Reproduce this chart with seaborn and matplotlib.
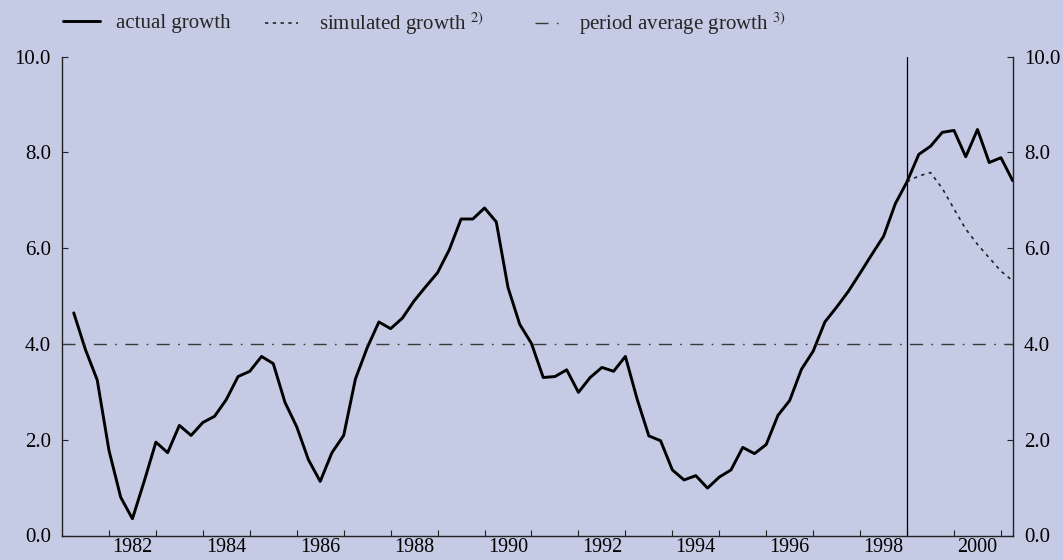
import numpy as np
import pandas as pd
import matplotlib
matplotlib.use("Agg")
import matplotlib.pyplot as plt
import seaborn as sns
from matplotlib.ticker import FormatStrFormatter

# ---------------- data ----------------
quarters = pd.period_range("1981Q1", "2001Q1", freq="Q")
actual_growth = [
    4.65, 3.88, 3.25, 1.78, 0.80, 0.35, 1.13, 1.95, 1.73, 2.30,
    2.09, 2.36, 2.49, 2.84, 3.32, 3.43, 3.74, 3.59, 2.78, 2.27,
    1.58, 1.13, 1.73, 2.09, 3.27, 3.92, 4.46, 4.32, 4.54, 4.90,
    5.20, 5.49, 5.97, 6.61, 6.61, 6.84, 6.55, 5.18, 4.41, 4.01,
    3.30, 3.32, 3.46, 2.99, 3.30, 3.51, 3.43, 3.74, 2.85, 2.08,
    1.98, 1.37, 1.16, 1.25, 0.99, 1.22, 1.37, 1.84, 1.71, 1.90,
    2.51, 2.82, 3.47, 3.85, 4.46, 4.77, 5.10, 5.48, 5.87, 6.25,
    6.93, 7.39, 7.96, 8.13, 8.42, 8.46, 7.91, 8.48, 7.79, 7.89, 7.41,
]
simulated_start = 1998.75   # 1998 Q4
simulated_growth = [7.39, 7.51, 7.58, 7.25, 6.82, 6.40, 6.08, 5.80, 5.52, 5.32]
period_average = 4.0
tick_years = list(range(1981, 2001))
label_years = list(range(1982, 2001, 2))
y_ticks = [0, 2, 4, 6, 8, 10]

legend_labels = ["actual growth", "simulated growth $^{2)}$", "period average growth $^{3)}$"]

# ---------------- style ----------------
BG = "#c5cbe4"
FS = 15
sns.set_theme(style="ticks")
plt.rcParams["font.family"] = ["Liberation Serif", "DejaVu Serif"]
plt.rcParams["mathtext.fontset"] = "stix"
plt.rcParams["lines.scale_dashes"] = False

t = quarters.year + (quarters.quarter - 1) / 4.0
df = pd.DataFrame({"t": t, "actual": actual_growth})
sim_t = t[t >= simulated_start]
df_sim = pd.DataFrame({"t": sim_t, "sim": simulated_growth})

W, H = 1063, 560
fig = plt.figure(figsize=(W / 100, H / 100), dpi=100, facecolor=BG)
left_px, right_px, top_px, bot_px = 62.0, 1012.7, 56.7, 535.5
ax = fig.add_axes([left_px / W, 1 - bot_px / H, (right_px - left_px) / W, (bot_px - top_px) / H])
ax.set_facecolor(BG)

sns.lineplot(data=df, x="t", y="actual", ax=ax, color="black", lw=2.1,
             label=legend_labels[0], legend=False)
sns.lineplot(data=df_sim, x="t", y="sim", ax=ax, color="#222222", lw=1.2,
             linestyle=(0, (2.4, 3.2)), label=legend_labels[1], legend=False)
h_avg = ax.axhline(period_average, color="#3a3a3a", lw=1.0,
                   linestyle=(0, (9.4, 6.0, 1.2, 6.0)), label=legend_labels[2])
ax.axvline(simulated_start, color="black", lw=0.9)

ax.set_xlim(1980.75, 2001.0)
ax.set_ylim(0, 10)
ax.set_xlabel("")
ax.set_ylabel("")

ax.set_xticks([y + 0.75 for y in tick_years])
ax.set_xticklabels([])
ax.set_xticks([y + 0.25 for y in label_years], minor=True)
ax.set_xticklabels([str(y) for y in label_years], minor=True)
ax.tick_params(axis="x", which="major", direction="in", length=4, width=0.8,
               color="#222222", labelbottom=False)
ax.tick_params(axis="x", which="minor", length=0, pad=1.5, labelsize=14.5, labelcolor="black")

ax.set_yticks(y_ticks)
ax.yaxis.set_major_formatter(FormatStrFormatter("%.1f"))
ax.tick_params(axis="y", direction="in", length=4, width=0.8, color="#222222",
               left=True, right=True, labelleft=True, labelright=True,
               pad=8, labelsize=FS, labelcolor="black")

for side in ["left", "right", "bottom"]:
    ax.spines[side].set_visible(True)
    ax.spines[side].set_color("#222222")
    ax.spines[side].set_linewidth(1.0)
ax.spines["top"].set_visible(False)

# ---------------- legend (three separate entries at top) ----------------
handles = [ax.lines[0], ax.lines[1], h_avg]
leg_x = [62.5, 265, 535]
leg_hl = [1.8, 1.58, 1.2]
leg_pad = [0.79, 1.0, 0.91]
y_leg = 1 - 23.5 / H
for h, lab, xp, hl, tp in zip(handles, legend_labels, leg_x, leg_hl, leg_pad):
    fig.legend([h], [lab], loc="center left", bbox_to_anchor=(xp / W, y_leg),
               frameon=False, fontsize=FS, handlelength=hl, handletextpad=tp,
               borderpad=0, borderaxespad=0)

fig.savefig("out.png", dpi=100, facecolor=BG)
